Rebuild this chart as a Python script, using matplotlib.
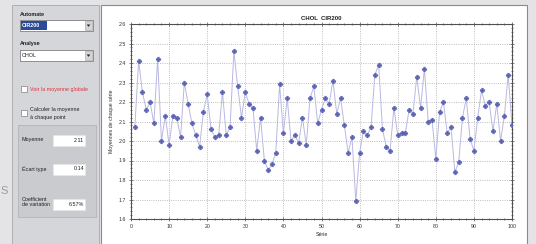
import numpy as np
import matplotlib
matplotlib.use('Agg')
import matplotlib.pyplot as plt
from matplotlib.patches import Rectangle, Polygon
from matplotlib.ticker import MultipleLocator, FormatStrFormatter

plt.rcParams['font.family'] = ['Liberation Sans', 'DejaVu Sans']

# data
series = np.arange(1, 101)
moyennes = [2.07, 2.41, 2.25, 2.16, 2.20, 2.09, 2.42, 2.00, 2.13, 1.98,
            2.13, 2.12, 2.02, 2.30, 2.19, 2.09, 2.03, 1.97, 2.15, 2.24,
            2.06, 2.02, 2.03, 2.25, 2.03, 2.07, 2.46, 2.28, 2.12, 2.25,
            2.19, 2.17, 1.95, 2.12, 1.90, 1.85, 1.88, 1.94, 2.29, 2.04,
            2.22, 2.00, 2.03, 1.99, 2.12, 1.98, 2.22, 2.28, 2.09, 2.16,
            2.22, 2.19, 2.31, 2.14, 2.22, 2.08, 1.94, 2.02, 1.69, 1.94,
            2.05, 2.03, 2.07, 2.34, 2.39, 2.06, 1.97, 1.95, 2.17, 2.03,
            2.04, 2.04, 2.16, 2.14, 2.33, 2.17, 2.37, 2.10, 2.11, 1.91,
            2.15, 2.20, 2.04, 2.07, 1.84, 1.89, 2.12, 2.22, 2.01, 1.95,
            2.12, 2.26, 2.18, 2.20, 2.05, 2.19, 2.00, 2.13, 2.34, 2.08]

automate = 'CIR200'
analyse = 'CHOL'
stat_labels = ['Moyenne', 'Écart type', 'Coefficient\nde variation']
stat_values = ['2.11', '0.14', '6.57%']

W, H = 536, 244
fig = plt.figure(figsize=(W / 100, H / 100), dpi=100)
fig.patch.set_facecolor('#e4e4e6')


def box(x, y, w, h, fc, ec='none', lw=0.6, z=1):
    # pixel coords, y from top
    r = Rectangle((x / W, 1 - (y + h) / H), w / W, h / H, transform=fig.transFigure,
                  fc=fc, ec=ec, lw=lw, zorder=z)
    fig.patches.append(r)


def txt(x, y, s, **kw):
    kw.setdefault('fontsize', 3.9)
    kw.setdefault('va', 'center')
    kw.setdefault('color', '#202020')
    fig.text(x / W, 1 - y / H, s, **kw)


def combo(y, value, selected=False):
    box(20, y, 73, 11, 'white', '#808080', 0.6, 2)
    if selected:
        box(21, y + 1, 26, 9, '#2c4a9a', z=3)
        txt(22, y + 5.8, value, color='white', fontweight='bold', zorder=4)
    else:
        txt(22, y + 5.8, value, zorder=4)
    box(85, y + 1, 7, 9, '#d4d4d8', '#a0a0a0', 0.4, 3)
    tri = Polygon([((86.7) / W, 1 - (y + 4.5) / H), (90.3 / W, 1 - (y + 4.5) / H),
                   (88.5 / W, 1 - (y + 6.8) / H)], closed=True, transform=fig.transFigure,
                  fc='#202020', ec='none', zorder=4)
    fig.patches.append(tri)


# left control panel
box(12, 5, 87, 240, '#d5d6da', '#a8a8ac', 0.6)
txt(0.5, 191, 'S', fontsize=8, color='#9a9a9a')
txt(20, 14, 'Automate', fontweight='bold')
combo(20, automate, selected=True)
txt(20, 44, 'Analyse', fontweight='bold')
combo(50, analyse)

box(21, 86, 6, 6, 'white', '#808080', 0.5, 2)
txt(30, 89, 'Voir la moyenne globale', color='#e0303c')
box(21, 110, 6, 6, 'white', '#808080', 0.5, 2)
txt(30, 109, 'Calculer la moyenne')
txt(30, 117, 'à chaque point')

box(18, 125, 78, 92, '#cacbcf', '#b4b4b8', 0.6, 1)
stat_y = [140, 169, 204]
for lab, val, yy in zip(stat_labels, stat_values, stat_y):
    txt(22, yy - (2 if '\n' in lab else 0), lab, linespacing=1.1)
    box(53, yy - 5.5, 32, 11, 'white', '#e8e8e8', 0.4, 2)
    txt(84, yy, val, ha='right', zorder=3)

# chart frame
box(101, 5, 426, 240, 'white', '#8a8a8e', 0.8)

ax = fig.add_axes([131 / W, 1 - 219 / H, 381 / W, 195 / H])
ax.set_zorder(5)
ax.set_facecolor('white')
ax.plot(series, moyennes, color='#b8b8e4', lw=0.7, zorder=2)
ax.plot(series, moyennes, ls='none', marker='P', ms=3.4, color='#5a62b8',
        mec='#4a52a8', mew=0.3, zorder=3)

ax.set_xlim(0, 100)
ax.set_ylim(1.6, 2.6)
ax.xaxis.set_major_locator(MultipleLocator(10))
ax.xaxis.set_minor_locator(MultipleLocator(2))
ax.yaxis.set_major_locator(MultipleLocator(0.1))
ax.yaxis.set_minor_locator(MultipleLocator(0.02))
ax.yaxis.set_major_formatter(FormatStrFormatter('%.1f'))
ax.grid(True, which='major', ls=':', color='#a8a8a8', lw=0.6)
ax.tick_params(which='both', direction='inout', top=True, right=True,
               labelsize=3.8, colors='#505050', labelcolor='#303030', width=0.5, pad=2)
ax.tick_params(which='major', length=3)
ax.tick_params(which='minor', length=2)
for s in ax.spines.values():
    s.set_color('#505050')
    s.set_linewidth(0.8)

ax.set_title(analyse + '  ' + automate, fontsize=4.3, fontweight='bold', pad=3, color='#202020')
ax.set_xlabel('Série', fontsize=3.8, labelpad=2, color='#303030')
ax.set_ylabel('Moyennes de chaque série', fontsize=3.8, labelpad=3, color='#303030')

fig.savefig('out.png', dpi=100, facecolor=fig.get_facecolor())
